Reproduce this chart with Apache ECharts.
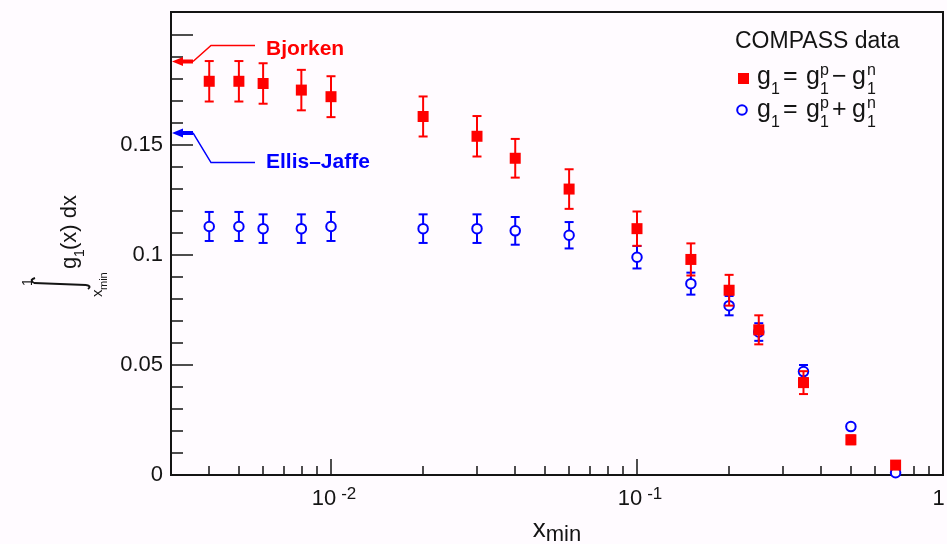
<!DOCTYPE html>
<html>
<head>
<meta charset="utf-8">
<script src="https://cdn.jsdelivr.net/npm/echarts@6/dist/echarts.min.js"></script>
<style>
  html, body { margin: 0; padding: 0; background: #fffbff; }
  #chart { width: 947px; height: 544px; }
</style>
</head>
<body>
<div id="chart"></div>
<script>
// Lower integration bound x_min of each point
const xMinValues = [0.004, 0.005, 0.006, 0.008, 0.01, 0.02, 0.03, 0.04, 0.06, 0.1, 0.15, 0.2, 0.25, 0.35, 0.5, 0.7];

// Integral of g1 = g1p - g1n from x_min to 1
const nonSingletValues = [0.179, 0.179, 0.178, 0.175, 0.172, 0.163, 0.154, 0.144, 0.130, 0.112, 0.098, 0.084, 0.066, 0.042, 0.016, 0.0045];
const nonSingletErrors = [0.0092, 0.0092, 0.0092, 0.0092, 0.0093, 0.0091, 0.0092, 0.0088, 0.009, 0.0078, 0.0073, 0.007, 0.0066, 0.0052, 0.002, 0.001];

// Integral of g1 = g1p + g1n from x_min to 1
const singletValues = [0.113, 0.113, 0.112, 0.112, 0.113, 0.112, 0.112, 0.111, 0.109, 0.099, 0.087, 0.077, 0.065, 0.047, 0.022, 0.001];
const singletErrors = [0.0066, 0.0066, 0.0065, 0.0065, 0.0066, 0.0065, 0.0065, 0.0063, 0.006, 0.0051, 0.005, 0.0044, 0.004, 0.003, 0.001, 0.001];

// Sum-rule predictions pointed at on the y axis
const sumRuleNames = ['Bjorken', 'Ellis\u2013Jaffe'];
const sumRuleValues = [0.188, 0.1555];

// Axis ranges and ticks
const xRange = [0.003, 1];
const yRange = [0, 0.2105];
const xMajorTicks = [0.01, 0.1, 1];
const xMinorTicks = [0.004, 0.005, 0.006, 0.007, 0.008, 0.009,
                     0.02, 0.03, 0.04, 0.05, 0.06, 0.07, 0.08, 0.09,
                     0.2, 0.3, 0.4, 0.5, 0.6, 0.7, 0.8, 0.9];
const yMajorTicks = [0, 0.05, 0.1, 0.15, 0.2];
const yLabelTicks = [0, 0.05, 0.1, 0.15];
const yMinorTicks = [0.01, 0.02, 0.03, 0.04, 0.06, 0.07, 0.08, 0.09,
                     0.11, 0.12, 0.13, 0.14, 0.16, 0.17, 0.18, 0.19];

const RED = '#ff0000';
const BLUE = '#0000ff';
const INK = '#141414';
const BG = '#fffbff';
const FONT = '"Liberation Sans", Arial, sans-serif';

function errorBars(values, errors, color, z) {
  return {
    type: 'custom',
    z: z,
    silent: true,
    data: xMinValues.map((x, i) => [x, values[i], errors[i]]),
    encode: { x: 0, y: 1 },
    renderItem(params, api) {
      const x = api.value(0), y = api.value(1), e = api.value(2);
      const hi = api.coord([x, y + e]);
      const lo = api.coord([x, y - e]);
      const cap = 4.5;
      const st = { stroke: color, lineWidth: 2 };
      return {
        type: 'group',
        children: [
          { type: 'line', shape: { x1: hi[0], y1: hi[1], x2: lo[0], y2: lo[1] }, style: st },
          { type: 'line', shape: { x1: hi[0] - cap, y1: hi[1], x2: hi[0] + cap, y2: hi[1] }, style: st },
          { type: 'line', shape: { x1: lo[0] - cap, y1: lo[1], x2: lo[0] + cap, y2: lo[1] }, style: st }
        ]
      };
    }
  };
}

// Arrow at the axis, bent leader line and label for each sum rule
const ruleColors = [RED, BLUE];
const ruleBend = [-16, 29.6];
const ruleTextShift = [4, 0];

const sumRuleSeries = {
  type: 'custom',
  z: 6,
  silent: true,
  clip: false,
  data: sumRuleValues.map((v, i) => [xRange[0], v, i]),
  encode: { x: 0, y: 1 },
  renderItem(params, api) {
    const p = api.coord([api.value(0), api.value(1)]);
    const i = api.value(2);
    const c = ruleColors[i];
    const x0 = p[0], y0 = p[1], dy = ruleBend[i];
    return {
      type: 'group',
      children: [
        { type: 'polygon', shape: { points: [[x0 + 1, y0], [x0 + 12, y0 - 4.5], [x0 + 12, y0 + 4.5]] }, style: { fill: c } },
        { type: 'line', shape: { x1: x0 + 10, y1: y0, x2: x0 + 22, y2: y0 }, style: { stroke: c, lineWidth: 4 } },
        { type: 'polyline', shape: { points: [[x0 + 22, y0], [x0 + 40, y0 + dy], [x0 + 84, y0 + dy]] }, style: { stroke: c, lineWidth: 1.5, fill: null } },
        { type: 'text', style: { text: sumRuleNames[i], x: x0 + 95, y: y0 + dy + ruleTextShift[i], fill: c, font: 'bold 21px ' + FONT, textAlign: 'left', textVerticalAlign: 'middle' } }
      ]
    };
  }
};

function txt(x, y, text, size, align) {
  return {
    type: 'text', x: x, y: y, silent: true,
    style: { text: text, font: size + 'px ' + FONT, fill: INK, textAlign: align || 'left', textVerticalAlign: 'middle' }
  };
}

// Legend row: g1 = g1p (op) g1n
function legendRow(y0, op) {
  return [
    txt(757, y0, 'g', 25),
    txt(771, y0 + 13, '1', 16),
    txt(783, y0, '=', 25),
    txt(806, y0, 'g', 25),
    txt(820, y0 - 6, 'p', 16),
    txt(820, y0 + 13, '1', 16),
    txt(832, y0, op, 25),
    txt(852, y0, 'g', 25),
    txt(867, y0 - 6, 'n', 16),
    txt(867, y0 + 13, '1', 16)
  ];
}

const strokeInk = { stroke: INK, lineWidth: 2, fill: null };

const option = {
  backgroundColor: BG,
  animation: false,
  grid: {
    left: 171, top: 12, width: 772, height: 463,
    outerBoundsMode: 'none',
    containLabel: false,
    show: true, borderColor: INK, borderWidth: 2, backgroundColor: 'transparent'
  },
  xAxis: [
    {
      type: 'log', logBase: 10, min: xRange[0], max: xRange[1], position: 'bottom',
      axisLine: { show: false },
      splitLine: { show: false },
      axisTick: { show: true, inside: true, length: 16, customValues: xMajorTicks, lineStyle: { color: INK, width: 1.5 } },
      axisLabel: {
        show: true, margin: 11, customValues: xMajorTicks,
        formatter: function (v) {
          if (Math.abs(v - 1) < 1e-9) return '{one|1}';
          return '{b|10}{s|' + Math.round(Math.log10(v)) + '}';
        },
        rich: {
          b: { fontSize: 22, lineHeight: 26, fontFamily: FONT, color: INK, padding: [0, 0, 0, 6] },
          s: { fontSize: 17, lineHeight: 16, fontFamily: FONT, color: INK, verticalAlign: 'top', padding: [0, 0, 0, 5] },
          one: { fontSize: 22, lineHeight: 26, fontFamily: FONT, color: INK, padding: [0, 9, 0, 0] }
        }
      },
      name: '{x|x}{m|min}',
      nameLocation: 'middle',
      nameGap: 39,
      nameTextStyle: {
        rich: {
          x: { fontSize: 26, lineHeight: 32, fontFamily: FONT, color: INK },
          m: { fontSize: 22, lineHeight: 10, fontFamily: FONT, color: INK, verticalAlign: 'bottom' }
        }
      }
    },
    {
      type: 'log', logBase: 10, min: xRange[0], max: xRange[1], position: 'bottom',
      axisLine: { show: false },
      splitLine: { show: false },
      axisLabel: { show: false },
      axisTick: { show: true, inside: true, length: 9, customValues: xMinorTicks, lineStyle: { color: INK, width: 1.5 } }
    }
  ],
  yAxis: [
    {
      type: 'value', min: yRange[0], max: yRange[1], position: 'left',
      axisLine: { show: false },
      splitLine: { show: false },
      axisTick: { show: true, inside: true, length: 22, customValues: yMajorTicks, lineStyle: { color: INK, width: 1.5 } },
      axisLabel: {
        show: true, margin: 8, customValues: yLabelTicks,
        fontSize: 22, fontFamily: FONT, color: INK,
        formatter: v => (v === 0 ? '0' : String(+v.toFixed(2)))
      }
    },
    {
      type: 'value', min: yRange[0], max: yRange[1], position: 'left',
      axisLine: { show: false },
      splitLine: { show: false },
      axisLabel: { show: false },
      axisTick: { show: true, inside: true, length: 12, customValues: yMinorTicks, lineStyle: { color: INK, width: 1.5 } }
    }
  ],
  series: [
    errorBars(singletValues, singletErrors, BLUE, 2),
    {
      type: 'scatter', z: 3, silent: true,
      data: xMinValues.map((x, i) => [x, singletValues[i]]),
      symbol: 'circle', symbolSize: 9.5,
      itemStyle: { color: BG, borderColor: BLUE, borderWidth: 2, opacity: 1 }
    },
    errorBars(nonSingletValues, nonSingletErrors, RED, 4),
    {
      type: 'scatter', z: 5, silent: true,
      data: xMinValues.map((x, i) => [x, nonSingletValues[i]]),
      symbol: 'rect', symbolSize: 11,
      itemStyle: { color: RED, opacity: 1 }
    },
    sumRuleSeries
  ],
  graphic: [
    // Legend block
    txt(735, 42, 'COMPASS data', 23),
    { type: 'rect', silent: true, shape: { x: 738, y: 73, width: 11, height: 11 }, style: { fill: RED } },
    { type: 'circle', silent: true, shape: { cx: 742, cy: 110, r: 4.8 }, style: { fill: BG, stroke: BLUE, lineWidth: 2 } }
  ].concat(legendRow(77, '\u2212'), legendRow(110, '+'), [
    // Y axis title: integral of g1(x) dx from x_min to 1, written bottom to top.
    // Local frame: +x runs up the page, +y runs to the right.
    {
      type: 'group', x: 70, y: 243, rotation: Math.PI / 2, silent: true,
      children: [
        { type: 'bezierCurve', silent: true, shape: { x1: -35, y1: -35, cpx1: -37, cpy1: -41, x2: -40, y2: -36 }, style: strokeInk },
        { type: 'line', silent: true, shape: { x1: -40, y1: -36, x2: -42, y2: 16 }, style: strokeInk },
        { type: 'bezierCurve', silent: true, shape: { x1: -42, y1: 16, cpx1: -43, cpy1: 22, x2: -46, y2: 18 }, style: strokeInk },
        txt(-43, -42, '1', 14),
        txt(-54, 28, 'x', 15),
        txt(-47, 34, 'min', 11),
        txt(-26, 0, 'g', 22),
        txt(-14, 10, '1', 14),
        txt(-7, 0, '(x) dx', 22)
      ]
    }
  ])
};

const chart = echarts.init(document.getElementById('chart'), null, { renderer: 'canvas' });
chart.setOption(option);
</script>
</body>
</html>
